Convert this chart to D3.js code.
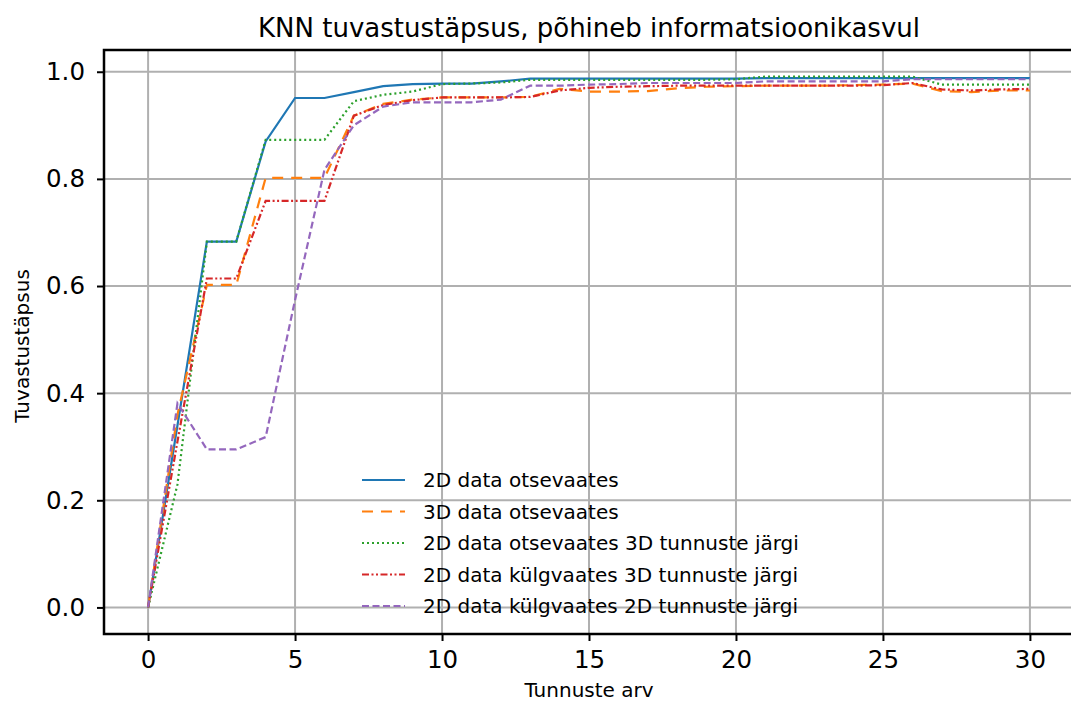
<!DOCTYPE html>
<html>
<head>
<meta charset="utf-8">
<script src="https://cdn.jsdelivr.net/npm/d3@7"></script>
<style>
  body { margin: 0; background: #fff; }
  text { font-family: "DejaVu Sans", sans-serif; fill: #000; }
</style>
</head>
<body>
<div id="chart"></div>
<script>
// dimensions
const width = 1071;
const height = 706;

// data
const features = d3.range(0, 31);
const seriesNames = [
  "2D data otsevaates",
  "3D data otsevaates",
  "2D data otsevaates 3D tunnuste järgi",
  "2D data külgvaates 3D tunnuste järgi",
  "2D data külgvaates 2D tunnuste järgi"
];
const blue2dFront = [0, 0.34, 0.683, 0.683, 0.870, 0.951, 0.951, 0.962, 0.973, 0.977, 0.978, 0.978, 0.982, 0.987, 0.987, 0.987, 0.987, 0.987, 0.987, 0.987, 0.987, 0.988, 0.988, 0.988, 0.988, 0.988, 0.988, 0.988, 0.988, 0.988, 0.988];
const orange3dFront = [0, 0.36, 0.602, 0.602, 0.802, 0.802, 0.802, 0.918, 0.940, 0.948, 0.952, 0.952, 0.952, 0.953, 0.968, 0.963, 0.963, 0.964, 0.969, 0.972, 0.973, 0.974, 0.974, 0.974, 0.975, 0.976, 0.978, 0.964, 0.962, 0.965, 0.965];
const green2dFront3d = [0, 0.23, 0.683, 0.683, 0.873, 0.873, 0.873, 0.945, 0.957, 0.963, 0.977, 0.978, 0.980, 0.985, 0.985, 0.985, 0.985, 0.985, 0.985, 0.985, 0.986, 0.991, 0.991, 0.991, 0.991, 0.991, 0.991, 0.976, 0.976, 0.976, 0.976];
const red2dSide3d = [0, 0.31, 0.614, 0.614, 0.759, 0.759, 0.759, 0.918, 0.938, 0.947, 0.952, 0.952, 0.952, 0.953, 0.965, 0.970, 0.972, 0.973, 0.974, 0.974, 0.974, 0.974, 0.974, 0.974, 0.974, 0.975, 0.979, 0.967, 0.965, 0.967, 0.968];
const purple2dSide2d = [0, 0.381, 0.295, 0.295, 0.318, 0.574, 0.817, 0.900, 0.935, 0.943, 0.943, 0.943, 0.948, 0.974, 0.974, 0.976, 0.977, 0.979, 0.979, 0.979, 0.979, 0.982, 0.982, 0.982, 0.982, 0.982, 0.986, 0.986, 0.986, 0.986, 0.986];
const xTicks = [0, 5, 10, 15, 20, 25, 30];
const yTicks = [0.0, 0.2, 0.4, 0.6, 0.8, 1.0];

// styles per series
const colors = ["#1f77b4", "#ff7f0e", "#2ca02c", "#d62728", "#9467bd"];
const dashes = [null, "11,8", "2,3", "7,2.5,2,2.5,2,2.5", "7,3.5"];

const series = [blue2dFront, orange3dFront, green2dFront3d, red2dSide3d, purple2dSide2d]
  .map((vals, i) => ({ name: seriesNames[i], values: vals.map((v, j) => ({ x: features[j], y: v })) }));

// plot area
const plotLeft = 104, plotRight = 1074, plotTop = 50, plotBottom = 634;

const x = d3.scaleLinear().domain([-1.5, 31.5]).range([plotLeft, plotRight]);
const y = d3.scaleLinear().domain([-0.0496, 1.0406]).range([plotBottom, plotTop]);

const svg = d3.select("#chart").append("svg")
  .attr("width", width)
  .attr("height", height);

// grid
svg.append("g").selectAll("line").data(xTicks).join("line")
  .attr("x1", d => x(d)).attr("x2", d => x(d))
  .attr("y1", plotTop).attr("y2", plotBottom)
  .attr("stroke", "#b0b0b0").attr("stroke-width", 2);
svg.append("g").selectAll("line").data(yTicks).join("line")
  .attr("x1", plotLeft).attr("x2", plotRight)
  .attr("y1", d => y(d)).attr("y2", d => y(d))
  .attr("stroke", "#b0b0b0").attr("stroke-width", 2);

// lines
const line = d3.line().x(d => x(d.x)).y(d => y(d.y));
svg.append("g").selectAll("path").data(series).join("path")
  .attr("d", d => line(d.values))
  .attr("fill", "none")
  .attr("stroke", (d, i) => colors[i])
  .attr("stroke-width", 2.2)
  .attr("stroke-dasharray", (d, i) => dashes[i]);

// axes
const xAxis = svg.append("g")
  .attr("transform", `translate(0,${plotBottom})`)
  .call(d3.axisBottom(x).tickValues(xTicks).tickSize(7).tickPadding(10).tickFormat(d3.format("d")));
const yAxis = svg.append("g")
  .attr("transform", `translate(${plotLeft},0)`)
  .call(d3.axisLeft(y).tickValues(yTicks).tickSize(7).tickPadding(12).tickFormat(d3.format(".1f")));
[xAxis, yAxis].forEach(a => {
  a.select(".domain").remove();
  a.selectAll(".tick line").attr("stroke", "#000").attr("stroke-width", 2);
  a.selectAll(".tick text").style("font-size", "24.5px").attr("font-family", null);
});

// spines
svg.append("rect")
  .attr("x", plotLeft).attr("y", plotTop)
  .attr("width", plotRight - plotLeft).attr("height", plotBottom - plotTop)
  .attr("fill", "none").attr("stroke", "#000").attr("stroke-width", 2.5);

// title and labels
svg.append("text")
  .attr("x", (plotLeft + plotRight) / 2).attr("y", 37)
  .attr("text-anchor", "middle")
  .style("font-size", "26px")
  .text("KNN tuvastustäpsus, põhineb informatsioonikasvul");

svg.append("text")
  .attr("x", (plotLeft + plotRight) / 2).attr("y", 697)
  .attr("text-anchor", "middle")
  .style("font-size", "20px")
  .text("Tunnuste arv");

svg.append("text")
  .attr("transform", `translate(29,${(plotTop + plotBottom) / 2 + 4}) rotate(-90)`)
  .attr("text-anchor", "middle")
  .style("font-size", "20px")
  .text("Tuvastustäpsus");

// legend (no frame)
const legend = svg.append("g").attr("transform", "translate(362,480)");
const item = legend.selectAll("g").data(series).join("g")
  .attr("transform", (d, i) => `translate(0,${i * 31.5})`);
item.append("line")
  .attr("x1", 0).attr("x2", 43)
  .attr("stroke", (d, i) => colors[i])
  .attr("stroke-width", 2.2)
  .attr("stroke-dasharray", (d, i) => dashes[i]);
item.append("text")
  .attr("x", 61).attr("y", 7)
  .style("font-size", "20px")
  .text(d => d.name);
</script>
</body>
</html>
